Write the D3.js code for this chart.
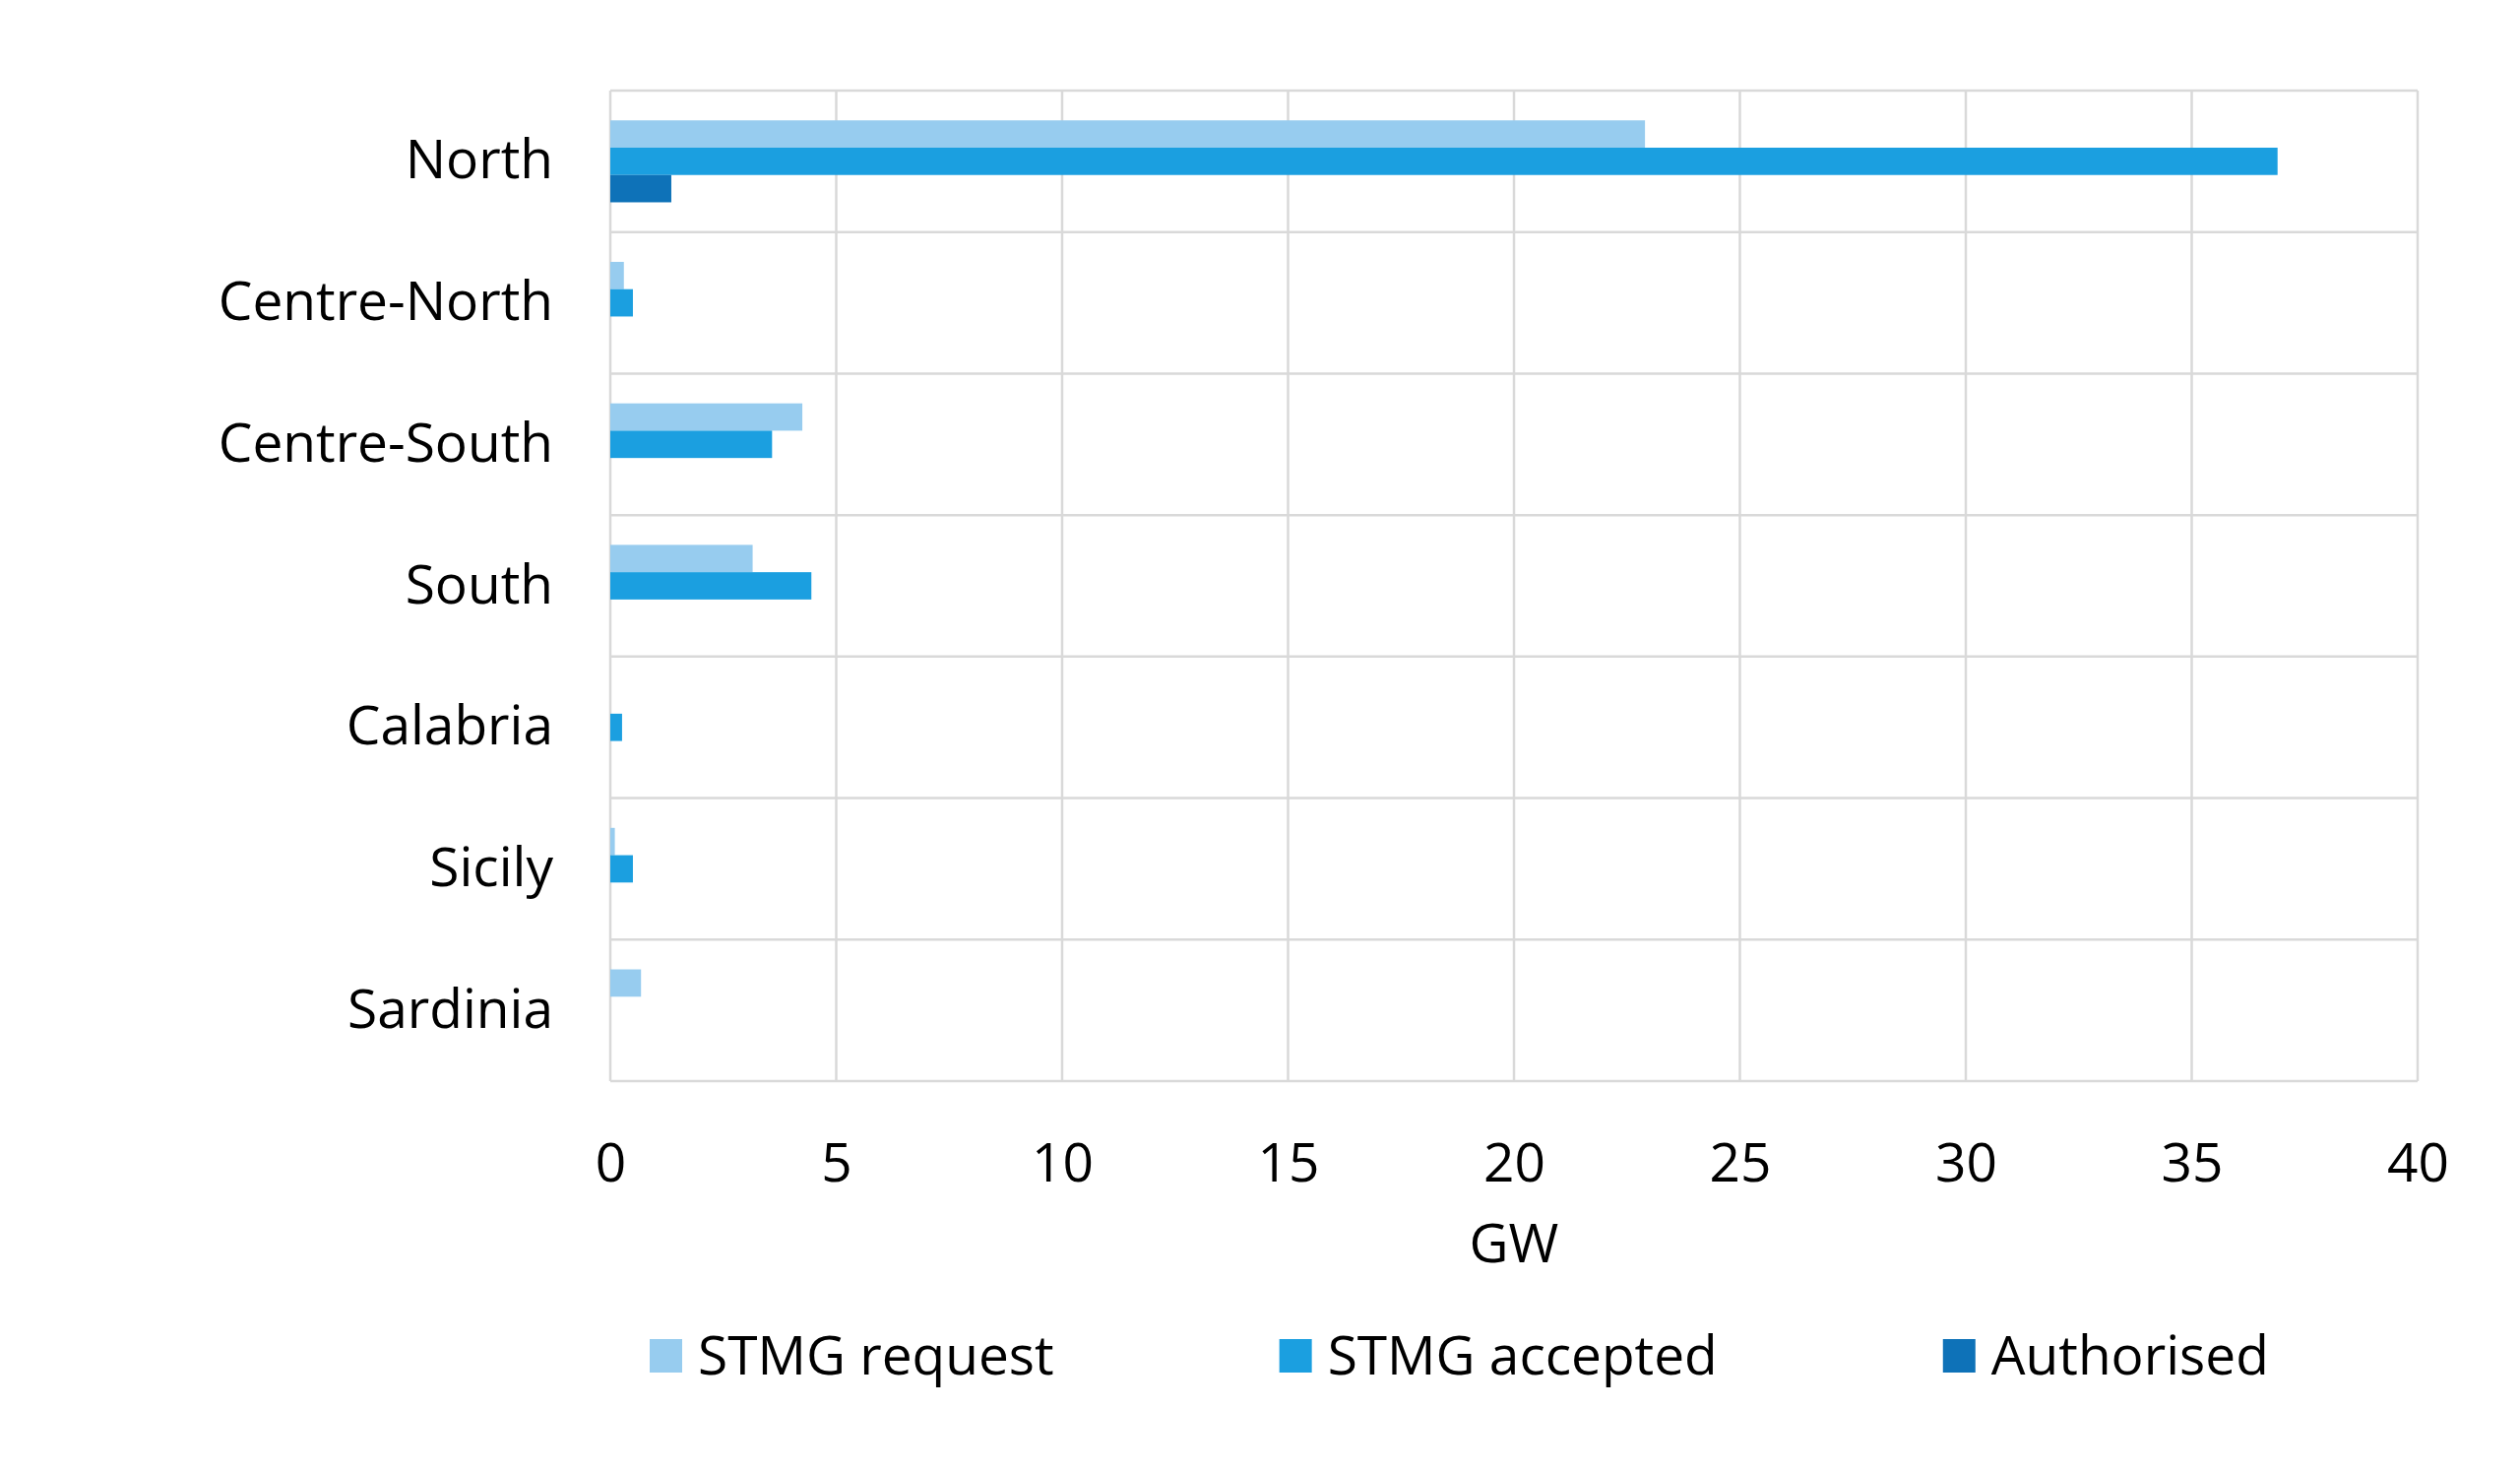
<!DOCTYPE html>
<html>
<head>
<meta charset="utf-8">
<script src="https://cdn.jsdelivr.net/npm/d3@7"></script>
<style>
  html, body { margin: 0; padding: 0; background: #ffffff; }
  text { font-family: "Open Sans", "Noto Sans", sans-serif; fill: #000; }
</style>
</head>
<body>
<div id="chart"></div>
<script>
// Data (GW)
const regions = ["North", "Centre-North", "Centre-South", "South", "Calabria", "Sicily", "Sardinia"];
const seriesNames = ["STMG request", "STMG accepted", "Authorised"];
const stmgRequest = [22.9, 0.3, 4.25, 3.15, 0, 0.1, 0.68];
const stmgAccepted = [36.9, 0.5, 3.58, 4.45, 0.26, 0.5, 0];
const authorised = [1.35, 0, 0, 0, 0, 0, 0];
const xTicks = [0, 5, 10, 15, 20, 25, 30, 35, 40];
const colors = ["#97ccef", "#1b9fe0", "#0e72b8"];

const width = 2560;
const height = 1495;
const margin = { top: 92, right: 104, bottom: 397, left: 620 };
const fontSize = "55px";

const svg = d3.select("#chart")
  .append("svg")
  .attr("width", width)
  .attr("height", height);

const x = d3.scaleLinear()
  .domain([0, 40])
  .range([margin.left, width - margin.right]);

const y = d3.scaleBand()
  .domain(regions)
  .range([margin.top, height - margin.bottom])
  .paddingInner(0)
  .paddingOuter(0);

const ySub = d3.scaleBand()
  .domain(seriesNames)
  .range([0, y.bandwidth()])
  .paddingInner(0)
  .paddingOuter(1.09);

const gridColor = "#d9d9d9";

// vertical gridlines
svg.append("g")
  .selectAll("line")
  .data(xTicks)
  .enter()
  .append("line")
  .attr("x1", (d) => x(d))
  .attr("x2", (d) => x(d))
  .attr("y1", margin.top)
  .attr("y2", height - margin.bottom)
  .attr("stroke", gridColor)
  .attr("stroke-width", 2.5);

// horizontal lines at category boundaries
const boundaries = regions.map((r) => y(r)).concat([height - margin.bottom]);
svg.append("g")
  .selectAll("line")
  .data(boundaries)
  .enter()
  .append("line")
  .attr("x1", x(0))
  .attr("x2", x(40))
  .attr("y1", (d) => d)
  .attr("y2", (d) => d)
  .attr("stroke", gridColor)
  .attr("stroke-width", 2.5);

// bars
const allSeries = [stmgRequest, stmgAccepted, authorised];
const barData = [];
regions.forEach((r, i) => {
  seriesNames.forEach((s, j) => {
    barData.push({ region: r, series: s, value: allSeries[j][i], color: colors[j] });
  });
});

svg.append("g")
  .selectAll("rect")
  .data(barData.filter((d) => d.value > 0))
  .enter()
  .append("rect")
  .attr("x", x(0))
  .attr("y", (d) => y(d.region) + ySub(d.series))
  .attr("width", (d) => x(d.value) - x(0))
  .attr("height", ySub.bandwidth())
  .attr("fill", (d) => d.color);

// x axis labels
const xAxis = d3.axisBottom(x)
  .tickValues(xTicks)
  .tickSize(0)
  .tickPadding(63);

const gx = svg.append("g")
  .attr("transform", `translate(0, ${height - margin.bottom})`)
  .call(xAxis);
gx.select(".domain").remove();
gx.selectAll("text")
  .style("font-size", fontSize)
  .attr("fill", "#000");

svg.append("text")
  .attr("x", (x(0) + x(40)) / 2)
  .attr("y", 1282)
  .attr("text-anchor", "middle")
  .style("font-size", fontSize)
  .text("GW");

// y axis labels
const yAxis = d3.axisLeft(y).tickSize(0).tickPadding(58);
const gy = svg.append("g")
  .attr("transform", `translate(${margin.left}, 0)`)
  .call(yAxis);
gy.select(".domain").remove();
gy.selectAll("text")
  .style("font-size", fontSize)
  .attr("fill", "#000");

// legend
const legend = svg.append("g").attr("transform", "translate(660, 1377)");
let lx = 0;
seriesNames.forEach((name, i) => {
  const item = legend.append("g").attr("transform", `translate(${lx}, 0)`);
  item.append("rect")
    .attr("x", 0)
    .attr("y", -17)
    .attr("width", 33)
    .attr("height", 34)
    .attr("fill", colors[i]);
  const t = item.append("text")
    .attr("x", 49)
    .attr("y", 0)
    .attr("dy", "0.35em")
    .style("font-size", fontSize)
    .text(name);
  lx += 49 + t.node().getComputedTextLength() + 229;
});
</script>
</body>
</html>
